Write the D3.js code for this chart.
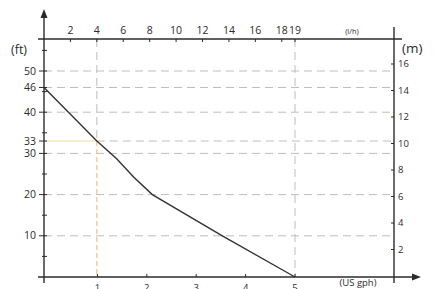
<!DOCTYPE html>
<html>
<head>
<meta charset="utf-8">
<script src="https://cdn.jsdelivr.net/npm/d3@7"></script>
<style>
  body { margin: 0; background: #fff; }
  svg { display: block; font-family: "Open Sans", sans-serif; }
</style>
</head>
<body>
<div class="chart"></div>
<script>
// flow (l/h) vs head (ft)
const flowLh = [0, 4, 5.5, 6.8, 8.2, 13.5, 19];
const headFt = [46, 33, 28.7, 24.2, 20, 10, 0];

const ftLabels = [10, 20, 30, 33, 40, 46, 50];
const ftGrid = [10, 20, 30, 40, 46, 50];
const ftMinor = [5, 15, 25, 35, 45, 55];
const mLabels = [2, 4, 6, 8, 10, 12, 14, 16];
const lhLabels = [2, 4, 6, 8, 10, 12, 14, 16, 18, 19];
const gphLabels = [1, 2, 3, 4, 5];
const markFlow = 4, markHead = 33, maxFlow = 19;

const width = 435, height = 289;
const x0 = 44, x1 = 394, yTop = 39, yBot = 277;
const ink = "#2b2b2b";

const xLh = d3.scaleLinear().domain([0, 19]).range([x0, 295]);
const xGph = d3.scaleLinear().domain([0, 5]).range([48, 295]);
const yFt = d3.scaleLinear().domain([0, 50]).range([yBot, 71]);
const yM = d3.scaleLinear().domain([0, 16]).range([276, 64]);

const svg = d3.select(".chart").append("svg")
    .attr("width", width).attr("height", height);

// gridlines
const grid = svg.append("g")
    .attr("stroke", "#bdbdbd").attr("stroke-width", 1)
    .attr("stroke-dasharray", "8,5");
grid.selectAll("line.h").data(ftGrid).enter().append("line")
    .attr("x1", x0).attr("x2", x1)
    .attr("y1", d => yFt(d)).attr("y2", d => yFt(d));
// 33 ft gridline, grey right of the marker
grid.append("line")
    .attr("x1", xLh(markFlow)).attr("x2", x1)
    .attr("y1", yFt(markHead)).attr("y2", yFt(markHead));
grid.append("line")
    .attr("x1", xLh(markFlow)).attr("x2", xLh(markFlow))
    .attr("y1", yTop).attr("y2", yFt(markHead));
grid.append("line")
    .attr("x1", xLh(maxFlow)).attr("x2", xLh(maxFlow))
    .attr("y1", yTop).attr("y2", yBot);

// orange marker lines
svg.append("line")
    .attr("x1", x0).attr("x2", xLh(markFlow))
    .attr("y1", yFt(markHead)).attr("y2", yFt(markHead))
    .attr("stroke", "#f3d9a0").attr("stroke-width", 1);
svg.append("line")
    .attr("x1", xLh(markFlow)).attr("x2", xLh(markFlow))
    .attr("y1", yFt(markHead)).attr("y2", yBot)
    .attr("stroke", "#f2b860").attr("stroke-width", 1)
    .attr("stroke-dasharray", "5,3");

// curve
svg.append("path")
    .datum(d3.zip(flowLh, headFt))
    .attr("fill", "none").attr("stroke", "#333").attr("stroke-width", 1.4)
    .attr("d", d3.line().x(d => xLh(d[0])).y(d => yFt(d[1])));

// axis lines
const axes = svg.append("g").attr("stroke", ink).attr("stroke-width", 1.4);
axes.append("line").attr("x1", x0).attr("x2", x0).attr("y1", 16).attr("y2", 283);
axes.append("line").attr("x1", 38).attr("x2", 414).attr("y1", yBot).attr("y2", yBot);
axes.append("line").attr("x1", 38).attr("x2", 402).attr("y1", yTop).attr("y2", yTop);
axes.append("line").attr("x1", x1).attr("x2", x1).attr("y1", 27).attr("y2", 283);

svg.append("path").attr("fill", ink).attr("d", `M${x0},9L${x0 - 3.5},18L${x0 + 3.5},18Z`);
svg.append("path").attr("fill", ink).attr("d", `M421,${yBot}L412,${yBot - 3.5}L412,${yBot + 3.5}Z`);

// ticks
const ticks = svg.append("g").attr("stroke", ink).attr("stroke-width", 1);
ticks.selectAll("line.l").data(ftLabels.concat(ftMinor)).enter().append("line")
    .attr("x1", d => ftLabels.includes(d) ? 39 : 42).attr("x2", 47)
    .attr("y1", d => yFt(d)).attr("y2", d => yFt(d));
ticks.selectAll("line.r").data(mLabels).enter().append("line")
    .attr("x1", x1 - 3).attr("x2", x1)
    .attr("y1", d => yM(d)).attr("y2", d => yM(d));
ticks.selectAll("line.t").data(lhLabels).enter().append("line")
    .attr("x1", d => xLh(d)).attr("x2", d => xLh(d))
    .attr("y1", yTop).attr("y2", yTop + 3);
ticks.selectAll("line.b").data(gphLabels).enter().append("line")
    .attr("x1", d => xGph(d)).attr("x2", d => xGph(d))
    .attr("y1", yBot - 3).attr("y2", yBot);

// labels
const lab = svg.append("g").attr("fill", ink).attr("font-size", 10.5);
lab.selectAll("text.l").data(ftLabels).enter().append("text")
    .attr("x", 36).attr("y", d => yFt(d)).attr("dy", "0.35em")
    .attr("text-anchor", "end").text(d => d);
lab.selectAll("text.r").data(mLabels).enter().append("text")
    .attr("x", 398).attr("y", d => yM(d)).attr("dy", "0.35em")
    .attr("font-size", 9.5).text(d => d);
lab.selectAll("text.t").data(lhLabels).enter().append("text")
    .attr("x", d => xLh(d)).attr("y", 34)
    .attr("text-anchor", "middle").text(d => d);
lab.selectAll("text.b").data(gphLabels).enter().append("text")
    .attr("x", d => xGph(d)).attr("y", 291)
    .attr("text-anchor", "middle").attr("font-size", 9.5).text(d => d);

lab.append("text").attr("x", 11).attr("y", 54).attr("font-size", 12.5).text("(ft)");
lab.append("text").attr("x", 402).attr("y", 53).attr("font-size", 13.5).text("(m)");
lab.append("text").attr("x", 352).attr("y", 34).attr("font-size", 7.5)
    .attr("text-anchor", "middle").text("(l/h)");
lab.append("text").attr("x", 358).attr("y", 286).attr("font-size", 9.5)
    .attr("text-anchor", "middle").text("(US gph)");
</script>
</body>
</html>
